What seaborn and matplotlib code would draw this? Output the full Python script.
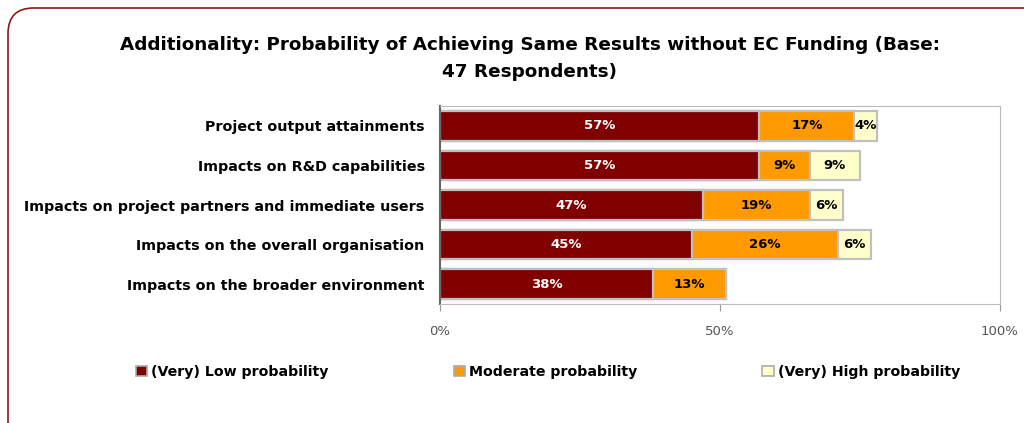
import pandas as pd
import matplotlib.pyplot as plt
import seaborn as sns
from matplotlib.patches import FancyBboxPatch, Patch

categories = ['Project output attainments',
              'Impacts on R&D capabilities',
              'Impacts on project partners and immediate users',
              'Impacts on the overall organisation',
              'Impacts on the broader environment']
low = [57, 57, 47, 45, 38]
moderate = [17, 9, 19, 26, 13]
high = [4, 9, 6, 6, 0]
series = ['(Very) Low probability', 'Moderate probability', '(Very) High probability']
colors = ['#800000', '#FF9900', '#FFFFCC']

df = pd.DataFrame({'cat': categories, 'low': low, 'moderate': moderate, 'high': high})
df['c1'] = df['low']
df['c2'] = df['low'] + df['moderate']
df['c3'] = df['c2'] + df['high']

sns.set_style('white')
plt.rcParams['font.family'] = ['DejaVu Sans']
plt.rcParams['text.color'] = 'black'
plt.rcParams['ytick.color'] = 'black'

fig = plt.figure(figsize=(10.24, 4.23), dpi=100)
ax = fig.add_axes([440 / 1024, 1 - 304 / 423, 560 / 1024, 198 / 423])

# stacked bars: draw cumulative sums from largest to smallest
for col, c in zip(['c3', 'c2', 'c1'], colors[::-1]):
    sns.barplot(x=col, y='cat', data=df, color=c, width=0.75, ax=ax,
                edgecolor='#C0C0C0', linewidth=1.6, orient='h', saturation=1)

for i, r in df.iterrows():
    segs = [(r['low'], 0, 'white'), (r['moderate'], r['c1'], 'black'), (r['high'], r['c2'], 'black')]
    for v, start, tc in segs:
        if v > 0:
            ax.text(start + v / 2, i, f'{v}%', ha='center', va='center',
                    color=tc, fontsize=9.5, fontweight='bold')

ax.set_xlim(0, 100)
ax.set_xticks([0, 50, 100])
ax.set_xticklabels(['0%', '50%', '100%'], color='#555555', fontsize=9.5)
ax.tick_params(axis='x', length=5, direction='out', color='#999999', pad=10, bottom=True)
ax.set_xlabel('')
ax.set_ylabel('')
ax.tick_params(axis='y', length=0, pad=11)
for lab in ax.get_yticklabels():
    lab.set_fontweight('bold')
    lab.set_fontsize(10.3)
for s in ['top', 'right', 'bottom']:
    ax.spines[s].set_color('#BBBBBB')
ax.spines['left'].set_color('#666666')
ax.spines['left'].set_linewidth(1.5)

fig.text(530 / 1024, 1 - 45 / 423, 'Additionality: Probability of Achieving Same Results without EC Funding (Base:',
         ha='center', va='center', fontsize=13.2, fontweight='bold')
fig.text(530 / 1024, 1 - 72 / 423, '47 Respondents)', ha='center', va='center',
         fontsize=13.2, fontweight='bold')

handles = [Patch(facecolor=c, edgecolor='#AAAAAA', linewidth=1.2) for c in colors]
leg = fig.legend(handles, series, loc='center', bbox_to_anchor=(548 / 1024, 1 - 372 / 423),
                 ncol=3, frameon=False, columnspacing=8.8, handlelength=0.8, handleheight=0.8,
                 handletextpad=0.3, prop={'weight': 'bold', 'size': 10.2})

border = FancyBboxPatch((8 / 1024, -0.1), 1.1, 1.1 - 8 / 423, transform=fig.transFigure,
                        boxstyle='round,pad=0,rounding_size=0.025', facecolor='none',
                        edgecolor='#8B1A1A', linewidth=1.2, mutation_aspect=1024 / 423)
fig.patches.append(border)

fig.savefig('out.png', dpi=100)
